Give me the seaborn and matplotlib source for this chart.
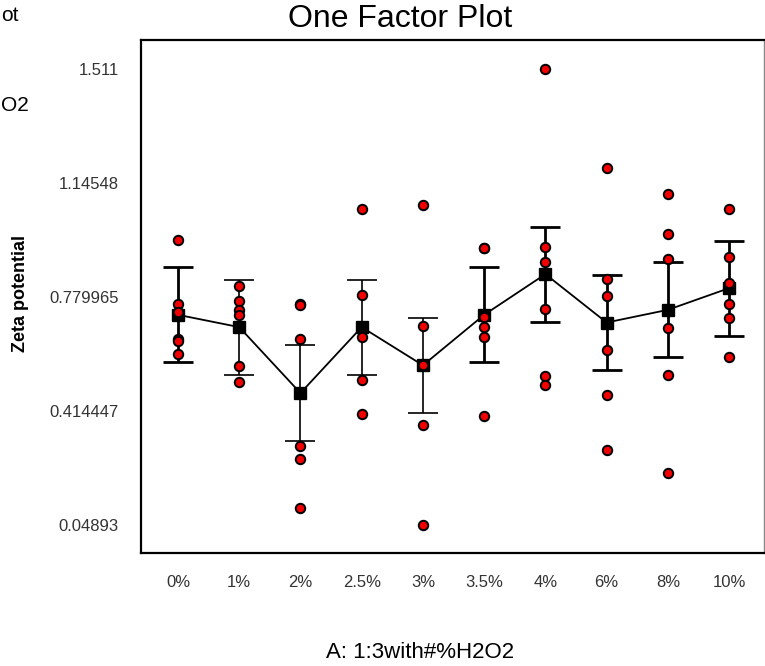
import numpy as np
import pandas as pd
import matplotlib
matplotlib.use("Agg")
import matplotlib.pyplot as plt
import seaborn as sns

# ---------------- data ----------------
categories = ["0%", "1%", "2%", "2.5%", "3%", "3.5%", "4%", "6%", "8%", "10%"]

obs_0 = [0.9637, 0.7585, 0.7328, 0.6463, 0.6398, 0.5982]
obs_1 = [0.8162, 0.7691, 0.7392, 0.7232, 0.5575, 0.5074]
obs_2 = [0.7585, 0.7560, 0.6472, 0.3009, 0.2615, 0.1034]
obs_2_5 = [1.0621, 0.7873, 0.6536, 0.5148, 0.4048]
obs_3 = [1.0769, 0.6879, 0.5629, 0.3705, 0.04893]
obs_3_5 = [0.9390, 0.9360, 0.7178, 0.6857, 0.6536, 0.3994]
obs_4 = [1.511, 0.9403, 0.8941, 0.7424, 0.5254, 0.4965]
obs_6 = [1.1955, 0.8386, 0.7851, 0.6110, 0.4667, 0.2904]
obs_8 = [1.1112, 0.9829, 0.9028, 0.6806, 0.5308, 0.2157]
obs_10 = [1.0621, 0.9101, 0.8249, 0.7575, 0.7126, 0.5895]

group_means = [0.7232, 0.6838, 0.4722, 0.6838, 0.5613, 0.7232, 0.8537, 0.6985, 0.7392, 0.8088]
lsd_half = [0.1526, 0.1526, 0.1526, 0.1526, 0.1526, 0.1526, 0.1526, 0.1526, 0.1526, 0.1526]

y_ticks = [0.04893, 0.414447, 0.779965, 1.14548, 1.511]
y_tick_labels = ["0.04893", "0.414447", "0.779965", "1.14548", "1.511"]

title_text = "One Factor Plot"
x_label = "A: 1:3with#%H2O2"
y_label = "Zeta potential"
side_fragments = ["ot", "O2"]   # visible tails of the clipped side legend

# ---------------- tables ----------------
all_obs = [obs_0, obs_1, obs_2, obs_2_5, obs_3, obs_3_5, obs_4, obs_6, obs_8, obs_10]
points_df = pd.DataFrame(
    [(c, v) for c, vals in zip(categories, all_obs) for v in vals],
    columns=["level", "value"],
)
means_df = pd.DataFrame({"level": categories, "mean": group_means})

# ---------------- style ----------------
sns.set_style("white")
plt.rcParams["font.family"] = ["Liberation Sans", "DejaVu Sans"]

W, H = 765, 666
fig = plt.figure(figsize=(W / 100, H / 100), dpi=100)
ax = fig.add_axes([141 / W, 1 - 553 / H, (764 - 141) / W, (553 - 40) / H])

# connecting line + mean squares
sns.pointplot(data=means_df, x="level", y="mean", order=categories,
              color="black", markers="s", markersize=8, linewidth=1.3,
              errorbar=None, ax=ax, zorder=3)

# LSD bars
positions = np.arange(len(categories))
thick = [2.0, 1.2, 1.2, 1.2, 1.2, 2.0, 2.0, 2.0, 2.0, 2.0]
for i in range(len(categories)):
    ax.errorbar(positions[i], group_means[i], yerr=lsd_half[i], fmt="none",
                ecolor="black", elinewidth=thick[i], capsize=10.5,
                capthick=thick[i], zorder=2)

# observations
sns.stripplot(data=points_df, x="level", y="value", order=categories,
              jitter=False, color="#f20000", edgecolor="black", linewidth=1.4,
              size=6.8, ax=ax, zorder=5)

ax.set_xlim(-0.604, 9.57)
ax.set_ylim(-0.0409, 1.6049)
ax.set_yticks(y_ticks)
ax.set_yticklabels(y_tick_labels)
ax.set_xlabel("")
ax.set_ylabel("")

for s in ax.spines.values():
    s.set_color("black")
    s.set_linewidth(1.6)
ax.spines["right"].set_color("#888888")
ax.spines["right"].set_linewidth(1.0)

ax.tick_params(axis="both", direction="out", length=12.5, width=1.5,
               color="black", labelcolor="#333333", labelsize=12)
ax.tick_params(axis="y", pad=3.5)
ax.tick_params(axis="x", pad=3)

fig.text(400 / W, 1 - 19 / H, title_text, ha="center", va="center",
         fontsize=23, color="black")
fig.text(420 / W, 1 - 652 / H, x_label, ha="center", va="center",
         fontsize=16, color="black")
fig.text(21 / W, 1 - 294 / H, y_label, rotation=90, ha="center", va="center",
         fontsize=13, fontweight="bold", color="black")

fig.text(1 / W, 1 - 21 / H, side_fragments[0], ha="left", va="baseline",
         fontsize=15, color="black")
fig.text(1 / W, 1 - 111 / H, side_fragments[1], ha="left", va="baseline",
         fontsize=15, color="black")

fig.savefig("out.png", dpi=100)
